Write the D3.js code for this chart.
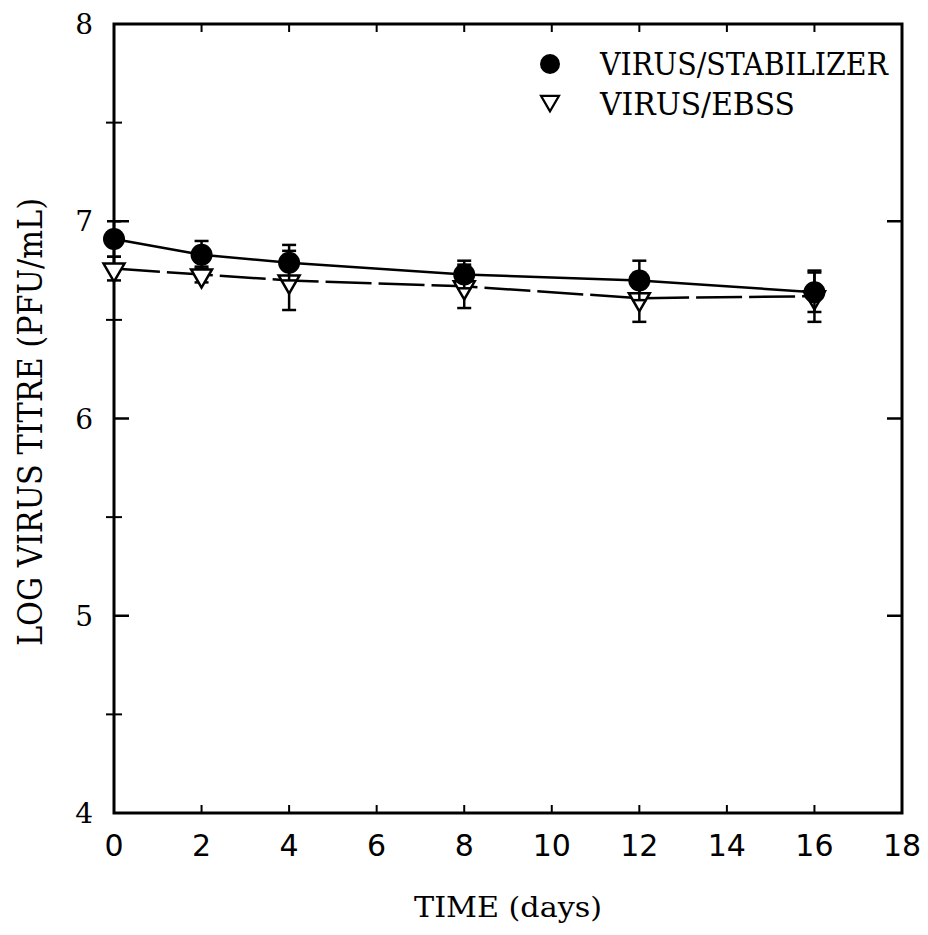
<!DOCTYPE html>
<html>
<head>
<meta charset="utf-8">
<script src="https://cdn.jsdelivr.net/npm/d3@7"></script>
<style>
    body { margin: 0; background: #fff; }
    text { fill: #000; }
</style>
</head>
<body>
<div id="chart"></div>
<script>
// Define variables
// ============================================================================
const days = [0, 2, 4, 8, 12, 16];
const stabilizerTitre = [6.91, 6.83, 6.79, 6.73, 6.70, 6.64];
const stabilizerErr = [0.09, 0.07, 0.09, 0.07, 0.10, 0.10];
const ebssTitre = [6.76, 6.73, 6.70, 6.67, 6.61, 6.62];
const ebssErr = [0.06, 0.04, 0.15, 0.11, 0.12, 0.13];
const xTicks = [0, 2, 4, 6, 8, 10, 12, 14, 16, 18];
const yTicks = [4, 5, 6, 7, 8];
const yMinor = [4.5, 5.5, 6.5, 7.5];
const legendLabels = ["VIRUS/STABILIZER", "VIRUS/EBSS"];

const W = 928, H = 935,
    margin = {top: 24, right: 26, bottom: 122, left: 114};

const serif = "'DejaVu Serif', 'Liberation Serif', serif";
const sans = "'DejaVu Sans', sans-serif";

// Plot
// ============================================================================
const svg = d3.select("#chart")
    .append("svg")
        .attr("width", W)
        .attr("height", H);

const xScale = d3.scaleLinear()
    .domain([0, 18])
    .range([margin.left, W - margin.right]);

const yScale = d3.scaleLinear()
    .domain([4, 8])
    .range([H - margin.bottom, margin.top]);

const x0 = xScale(0), x1 = xScale(18), y0 = yScale(4), y1 = yScale(8);

// Frame
svg.append("rect")
    .attr("x", x0).attr("y", y1)
    .attr("width", x1 - x0).attr("height", y0 - y1)
    .attr("fill", "none")
    .attr("stroke", "#000")
    .attr("stroke-width", 3);

// Top / bottom ticks (inside)
const inner = xTicks.filter(d => d > 0 && d < 18);
svg.append("g").selectAll("line")
    .data(inner)
    .join("line")
        .attr("x1", d => xScale(d)).attr("x2", d => xScale(d))
        .attr("y1", y0).attr("y2", y0 - 8)
        .attr("stroke", "#000").attr("stroke-width", 2);
svg.append("g").selectAll("line")
    .data(inner)
    .join("line")
        .attr("x1", d => xScale(d)).attr("x2", d => xScale(d))
        .attr("y1", y1).attr("y2", y1 + 8)
        .attr("stroke", "#000").attr("stroke-width", 2);

// Left / right major ticks
const innerY = yTicks.filter(d => d > 4 && d < 8);
svg.append("g").selectAll("line")
    .data(innerY)
    .join("line")
        .attr("x1", x0).attr("x2", x0 + 15)
        .attr("y1", d => yScale(d)).attr("y2", d => yScale(d))
        .attr("stroke", "#000").attr("stroke-width", 2.5);
svg.append("g").selectAll("line")
    .data(innerY)
    .join("line")
        .attr("x1", x1).attr("x2", x1 - 15)
        .attr("y1", d => yScale(d)).attr("y2", d => yScale(d))
        .attr("stroke", "#000").attr("stroke-width", 2.5);

// Left minor ticks (crossing)
svg.append("g").selectAll("line")
    .data(yMinor)
    .join("line")
        .attr("x1", x0 - 8).attr("x2", x0 + 8)
        .attr("y1", d => yScale(d)).attr("y2", d => yScale(d))
        .attr("stroke", "#000").attr("stroke-width", 2);

// Tick labels
svg.append("g").selectAll("text")
    .data(xTicks)
    .join("text")
        .attr("x", d => xScale(d))
        .attr("y", y0 + 43)
        .attr("text-anchor", "middle")
        .attr("font-family", sans)
        .attr("font-size", 30)
        .text(d => d);

svg.append("g").selectAll("text")
    .data(yTicks)
    .join("text")
        .attr("x", x0 - 21)
        .attr("y", d => yScale(d) + 10)
        .attr("text-anchor", "end")
        .attr("font-family", serif)
        .attr("font-size", 28)
        .text(d => d);

// Axis titles
svg.append("text")
    .attr("x", (x0 + x1) / 2)
    .attr("y", 917)
    .attr("text-anchor", "middle")
    .attr("font-family", serif)
    .attr("font-size", 28)
    .attr("textLength", 188)
    .attr("lengthAdjust", "spacingAndGlyphs")
    .text("TIME (days)");

svg.append("text")
    .attr("transform", "translate(42,422) rotate(-90)")
    .attr("text-anchor", "middle")
    .attr("font-family", serif)
    .attr("font-size", 33)
    .attr("textLength", 448)
    .attr("lengthAdjust", "spacingAndGlyphs")
    .text("LOG VIRUS TITRE (PFU/mL)");

// Series data
const stab = days.map((d, i) => ({x: d, y: stabilizerTitre[i], e: stabilizerErr[i]}));
const ebss = days.map((d, i) => ({x: d, y: ebssTitre[i], e: ebssErr[i]}));

const line = d3.line()
    .x(d => xScale(d.x))
    .y(d => yScale(d.y));

function errorBars(data) {
    const g = svg.append("g")
        .attr("stroke", "#000")
        .attr("stroke-width", 2.5);
    g.selectAll("line.v")
        .data(data)
        .join("line")
            .attr("x1", d => xScale(d.x)).attr("x2", d => xScale(d.x))
            .attr("y1", d => yScale(d.y - d.e)).attr("y2", d => yScale(d.y + d.e));
    g.selectAll("line.lo")
        .data(data)
        .join("line")
            .attr("x1", d => xScale(d.x) - 7).attr("x2", d => xScale(d.x) + 7)
            .attr("y1", d => yScale(d.y - d.e)).attr("y2", d => yScale(d.y - d.e));
    g.selectAll("line.hi")
        .data(data)
        .join("line")
            .attr("x1", d => xScale(d.x) - 7).attr("x2", d => xScale(d.x) + 7)
            .attr("y1", d => yScale(d.y + d.e)).attr("y2", d => yScale(d.y + d.e));
}

const tri = d3.symbol().type(d3.symbolTriangle).size(190);

// EBSS series
svg.append("path")
    .datum(ebss)
    .attr("d", line)
    .attr("fill", "none")
    .attr("stroke", "#000")
    .attr("stroke-width", 2.5)
    .attr("stroke-dasharray", "46,7");
errorBars(ebss);
svg.append("g").selectAll("path")
    .data(ebss)
    .join("path")
        .attr("d", tri)
        .attr("transform", d => "translate(" + xScale(d.x) + "," + (yScale(d.y) + 1) + ") rotate(180)")
        .attr("fill", "#fff")
        .attr("stroke", "#000")
        .attr("stroke-width", 2.5);

// Stabilizer series
svg.append("path")
    .datum(stab)
    .attr("d", line)
    .attr("fill", "none")
    .attr("stroke", "#000")
    .attr("stroke-width", 2.5);
errorBars(stab);
svg.append("g").selectAll("circle")
    .data(stab)
    .join("circle")
        .attr("cx", d => xScale(d.x))
        .attr("cy", d => yScale(d.y))
        .attr("r", 11)
        .attr("fill", "#000");

// Legend
const legend = svg.append("g");
legend.append("circle")
    .attr("cx", 550).attr("cy", 64).attr("r", 10)
    .attr("fill", "#000");
legend.append("path")
    .attr("d", d3.symbol().type(d3.symbolTriangle).size(140))
    .attr("transform", "translate(550,101) rotate(180)")
    .attr("fill", "#fff")
    .attr("stroke", "#000")
    .attr("stroke-width", 2.2);
legend.selectAll("text")
    .data(legendLabels)
    .join("text")
        .attr("x", 600)
        .attr("y", (d, i) => 75 + i * 40)
        .attr("font-family", serif)
        .attr("font-size", 31)
        .attr("textLength", (d, i) => i === 0 ? 288 : 195)
        .attr("lengthAdjust", "spacingAndGlyphs")
        .text(d => d);
</script>
</body>
</html>
